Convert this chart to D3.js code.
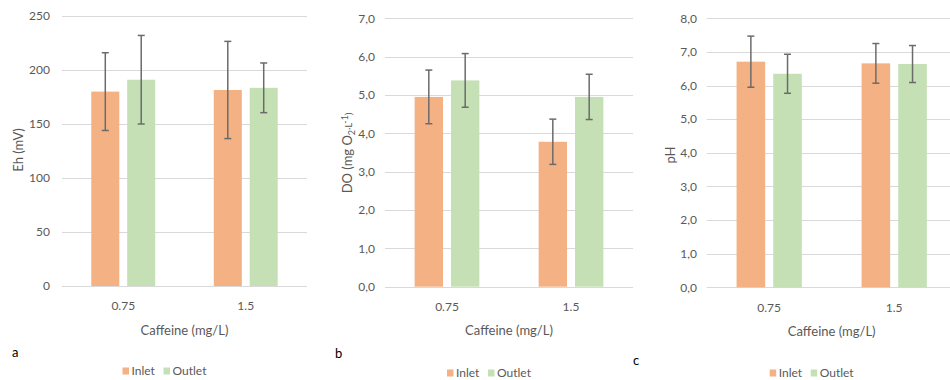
<!DOCTYPE html>
<html>
<head>
<meta charset="utf-8">
<script src="https://cdn.jsdelivr.net/npm/d3@7"></script>
<style>
	body { margin: 0; background: #fff; }
	text { font-family: Lato, "Open Sans", sans-serif; fill: #595959; }
</style>
</head>
<body>
<div id="chart_goes_here"></div>
<script>
var categories = ['0.75', '1.5'];
var series = ['Inlet', 'Outlet'];
var colours = ['#f4b183', '#c5e0b4'];

//Eh panel (a)
var eh_inlet = [180, 181.5];
var eh_inlet_err = [36, 45];
var eh_outlet = [191, 183.5];
var eh_outlet_err = [41, 23];
var eh_ticks = [0, 50, 100, 150, 200, 250];

//DO panel (b)
var do_inlet = [4.95, 3.78];
var do_inlet_err = [0.70, 0.59];
var do_outlet = [5.38, 4.95];
var do_outlet_err = [0.70, 0.59];
var do_ticks = [0, 1, 2, 3, 4, 5, 6, 7];

//pH panel (c)
var ph_inlet = [6.71, 6.66];
var ph_inlet_err = [0.76, 0.59];
var ph_outlet = [6.35, 6.64];
var ph_outlet_err = [0.58, 0.55];
var ph_ticks = [0, 1, 2, 3, 4, 5, 6, 7, 8];

var svg = d3.select('#chart_goes_here')
	.append('svg')
	.attr('width', 950)
	.attr('height', 380);

var comma_format = function(d){ return d3.format('.1f')(d).replace('.', ','); };

function panel_draw(p){
	var g = svg.append('g');
	var y = d3.scaleLinear()
		.domain([0, d3.max(p.ticks)])
		.range([p.bottom, p.top]);
	var x0 = d3.scaleBand()
		.domain(categories)
		.range([p.left, p.right]);
	var bw = x0.bandwidth();
	var x1 = d3.scaleBand()
		.domain(series)
		.range([bw * 0.239, bw * 0.761])
		.paddingInner(0.22);

	//gridlines
	g.selectAll('.grid')
		.data(p.ticks)
		.enter()
		.append('line')
		.attr('x1', p.left)
		.attr('x2', p.right)
		.attr('y1', function(d){ return Math.round(y(d)) + 0.5; })
		.attr('y2', function(d){ return Math.round(y(d)) + 0.5; })
		.style('stroke', '#d9d9d9')
		.style('stroke-width', 1);

	//y tick labels
	g.selectAll('.ytick')
		.data(p.ticks)
		.enter()
		.append('text')
		.attr('x', p.tick_right)
		.attr('y', function(d){ return y(d); })
		.attr('dy', '0.35em')
		.attr('text-anchor', 'end')
		.style('font-size', '12px')
		.text(p.format);

	//rows of values: one per series
	var rows = [];
	categories.forEach(function(c, i){
		series.forEach(function(s, k){
			rows.push({cat: c, ser: s, k: k, v: p.values[k][i], e: p.errors[k][i]});
		});
	});

	g.selectAll('.bar')
		.data(rows)
		.enter()
		.append('rect')
		.attr('x', function(d){ return x0(d.cat) + x1(d.ser); })
		.attr('y', function(d){ return y(d.v); })
		.attr('width', x1.bandwidth())
		.attr('height', function(d){ return y(0) - y(d.v); })
		.style('fill', function(d){ return colours[d.k]; });

	//error bars
	var cx = function(d){ return x0(d.cat) + x1(d.ser) + x1.bandwidth() / 2; };
	var eb = g.selectAll('.err')
		.data(rows)
		.enter()
		.append('g')
		.style('stroke', '#6b6b6b')
		.style('stroke-width', 1.5);
	eb.append('line')
		.attr('x1', cx).attr('x2', cx)
		.attr('y1', function(d){ return y(d.v + d.e); })
		.attr('y2', function(d){ return y(d.v - d.e); });
	[1, -1].forEach(function(sign){
		eb.append('line')
			.attr('x1', function(d){ return cx(d) - 3.5; })
			.attr('x2', function(d){ return cx(d) + 3.5; })
			.attr('y1', function(d){ return y(d.v + sign * d.e); })
			.attr('y2', function(d){ return y(d.v + sign * d.e); });
	});

	//x tick labels
	g.selectAll('.xtick')
		.data(categories)
		.enter()
		.append('text')
		.attr('x', function(d){ return x0(d) + bw / 2; })
		.attr('y', p.bottom + 20)
		.attr('dy', '0.35em')
		.attr('text-anchor', 'middle')
		.style('font-size', '12px')
		.text(function(d){ return d; });

	g.append('text')
		.attr('x', (p.left + p.right) / 2)
		.attr('y', p.bottom + 44)
		.attr('dy', '0.35em')
		.attr('text-anchor', 'middle')
		.style('font-size', '13px')
		.text('Caffeine (mg/L)');

	//y title, sub and superscripts are shifted with dy
	var yt = g.append('text')
		.attr('transform', 'translate(' + p.title_x + ',' + p.title_y + ') rotate(-90)')
		.attr('y', 4.5)
		.attr('text-anchor', 'middle')
		.style('font-size', '13px');
	p.title.forEach(function(t){
		yt.append('tspan')
			.attr('dy', t[1] || 0)
			.style('font-size', t[1] ? '9px' : null)
			.text(t[0]);
	});

	//panel letter
	g.append('text')
		.attr('x', p.letter[0])
		.attr('y', p.letter[1])
		.attr('dy', '0.35em')
		.style('font-size', '13px')
		.style('fill', '#000')
		.text(p.letter[2]);

	//legend
	var lx = (p.left + p.right) / 2 - 62;
	var ly = p.legend_y;
	var legend_x = [lx, lx + 41];
	series.forEach(function(s, k){
		g.append('rect')
			.attr('x', legend_x[k])
			.attr('y', ly - 3.5)
			.attr('width', 6.5)
			.attr('height', 7)
			.style('fill', colours[k]);
		g.append('text')
			.attr('x', legend_x[k] + 9)
			.attr('y', ly)
			.attr('dy', '0.35em')
			.style('font-size', '12px')
			.text(s);
	});
}

panel_draw({
	left: 62, right: 307, top: 16, bottom: 286,
	ticks: eh_ticks, format: d3.format('d'),
	values: [eh_inlet, eh_outlet], errors: [eh_inlet_err, eh_outlet_err],
	tick_right: 50, title_x: 18, title_y: 150,
	title: [['Eh (mV)']],
	letter: [12, 352, 'a'], legend_y: 371
});

panel_draw({
	left: 385, right: 633, top: 18.3, bottom: 286.7,
	ticks: do_ticks, format: comma_format,
	values: [do_inlet, do_outlet], errors: [do_inlet_err, do_outlet_err],
	tick_right: 375, title_x: 347, title_y: 153,
	title: [['DO (mg O'], ['2', 3], ['\u00b7L', -3], ['-1', -4], [')', 4]],
	letter: [335, 353, 'b'], legend_y: 373
});

panel_draw({
	left: 706.7, right: 956.7, top: 18.3, bottom: 287.3,
	ticks: ph_ticks, format: comma_format,
	values: [ph_inlet, ph_outlet], errors: [ph_inlet_err, ph_outlet_err],
	tick_right: 697, title_x: 670, title_y: 155,
	title: [['pH']],
	letter: [633, 360, 'c'], legend_y: 373
});
</script>
</body>
</html>
